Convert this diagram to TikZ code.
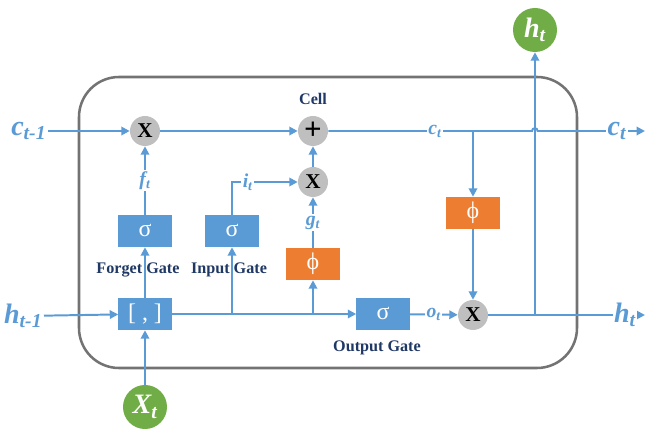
\documentclass[tikz,border=0pt]{standalone}
\usepackage{fontspec}
\setmainfont{Liberation Serif}
\usepackage{xcolor}
\usepackage{tikz}
\usetikzlibrary{arrows.meta, positioning, calc}
\definecolor{lstmblue}{HTML}{5B9BD5}
\definecolor{lstmorange}{HTML}{ED7D31}
\definecolor{lstmgreen}{HTML}{70AD47}
\definecolor{lstmgray}{HTML}{BFBFBF}
\definecolor{lstmnavy}{HTML}{1F3864}
\newcommand{\biglbl}[2]{\fontsize{20}{20}\selectfont\bfseries\itshape #1\textsubscript{#2}}
\newcommand{\smalllbl}[2]{\fontsize{14}{14}\selectfont\bfseries\itshape #1\textsubscript{#2}}

\begin{document}
\begin{tikzpicture}[
    x=0.025cm, y=-0.025cm,
    flow/.style={draw=lstmblue, line width=1.4pt},
    arr/.style={flow, -{Triangle[length=6pt, width=6pt]}},
    gatebox/.style={rectangle, fill=lstmblue, text=white, minimum width=1.325cm, minimum height=0.8cm, font=\fontsize{17}{17}\selectfont},
    actbox/.style={gatebox, fill=lstmorange},
    op/.style={circle, fill=lstmgray, minimum size=0.75cm, inner sep=0pt, font=\fontsize{15}{15}\selectfont\bfseries},
    io/.style={circle, fill=lstmgreen, text=white, minimum size=1.1cm, inner sep=0pt},
    lbl/.style={text=lstmblue, fill=white, inner sep=1pt},
    gatename/.style={text=lstmnavy, font=\fontsize{11.5}{12}\selectfont\bfseries}
  ]
  \useasboundingbox (0,0) rectangle (646,431);
  \draw[draw=black!55, line width=1.8pt, rounded corners=1cm] (79,77) rectangle (577,368);

  \node[op] (fmul) at (145,131) {X};
  \node[op, font=\fontsize{22}{22}\selectfont\bfseries] (add) at (313,131) {+};
  \node[op] (imul) at (313,182) {X};
  \node[op] (omul) at (473,315) {X};
  \node[gatebox] (fgate) at (145,231) {σ};
  \node[gatebox] (igate) at (232,231) {σ};
  \node[actbox] (gact) at (313,264) {ϕ};
  \node[gatebox] (concat) at (145,314) {[ , ]};
  \node[gatebox] (ogate) at (383,314) {σ};
  \node[actbox] (cact) at (473,213) {ϕ};
  \node[io] (xin) at (145,407) {\biglbl{X}{t}};
  \node[io] (hout) at (535,30) {\biglbl{h}{t}};

  \node[lbl, anchor=east] (cprev) at (48,131) {\biglbl{c}{t-1}};
  \node[lbl, anchor=east] (hprev) at (44,316) {\biglbl{h}{t-1}};
  \coordinate (cend) at (645,131);
  \coordinate (hend) at (645,315);
  \coordinate (csplit) at (473,131);
  \coordinate (hsplit) at (535,315);
  \coordinate (isplit) at (232,314);
  \coordinate (gsplit) at (313,314);

  \draw[arr] (cprev) -- (fmul);
  \draw[arr] (fmul) -- (add);
  \draw[arr] (add) -- (532,131) arc[start angle=180, end angle=0, radius=2pt] -- (cend);
  \draw[arr] (csplit) -- (cact);
  \draw[arr] (cact) -- (omul);
  \draw[arr] (omul) -- (hend);
  \draw[arr] (hsplit) -- (hout);
  \draw[arr] (hprev) -- (concat);
  \draw[arr] (xin) -- (concat);
  \draw[arr] (concat) -- (ogate);
  \draw[arr] (concat) -- (fgate);
  \draw[arr] (isplit) -- (igate);
  \draw[arr] (gsplit) -- (gact);
  \draw[arr] (fgate) -- node[lbl] {\smalllbl{f}{t}} (fmul);
  \draw[arr] (igate) |- node[lbl, pos=0.62] {\smalllbl{i}{t}} (imul);
  \draw[arr] (gact) -- node[lbl] {\smalllbl{g}{t}} (imul);
  \draw[arr] (imul) -- (add);
  \draw[arr] (ogate) -- node[lbl] {\smalllbl{o}{t}} (omul);

  \node[lbl] (ct) at (435,131) {\smalllbl{c}{t}};
  \node[lbl] (ctout) at (617,131) {\biglbl{c}{t}};
  \node[lbl] (htout) at (625,315) {\biglbl{h}{t}};

  \node[gatename] (cname) at (313,99) {Cell};
  \node[gatename] (fname) at (138,270) {Forget Gate};
  \node[gatename] (iname) at (229,270) {Input Gate};
  \node[gatename] (oname) at (377,348) {Output Gate};
\end{tikzpicture}
\end{document}
